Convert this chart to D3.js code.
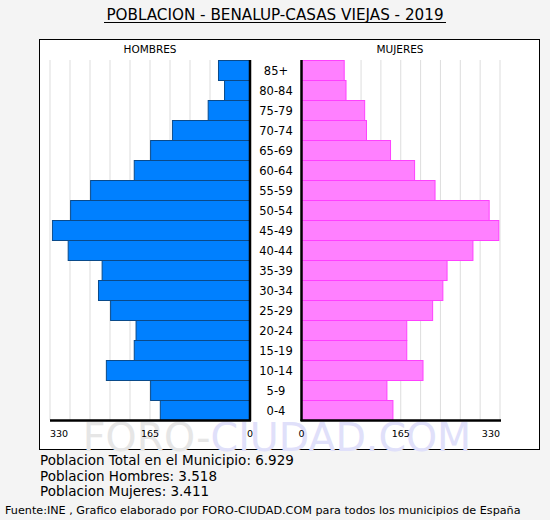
<!DOCTYPE html>
<html><head><meta charset="utf-8">
<script src="https://cdn.jsdelivr.net/npm/d3@7"></script>
<style>html,body{margin:0;padding:0;background:#f4f4f4;}svg{display:block;}</style>
</head><body>
<script>
const ageGroups = ["85+","80-84","75-79","70-74","65-69","60-64","55-59","50-54","45-49","40-44","35-39","30-34","25-29","20-24","15-19","10-14","5-9","0-4"];
const hombres = [52,42,69,128,164,191,263,296,326,300,244,250,230,188,191,237,164,148];
const mujeres = [71,74,105,108,148,188,222,312,328,285,242,235,218,175,175,202,142,152];
const tickValues = [330,165,0];
const summaryLines = ["Poblacion Total en el Municipio: 6.929","Poblacion Hombres: 3.518","Poblacion Mujeres: 3.411"];
const titleText = "POBLACION - BENALUP-CASAS VIEJAS - 2019";
const footerText = "Fuente:INE , Grafico elaborado por FORO-CIUDAD.COM para todos los municipios de España";

const W=550,H=520,font="DejaVu Sans, Verdana, sans-serif";
const svg=d3.select("body").append("svg").attr("width",W).attr("height",H);
svg.append("rect").attr("width",W).attr("height",H).attr("fill","#f4f4f4");

// title
svg.append("text").attr("x",275).attr("y",20).attr("text-anchor","middle")
  .attr("font-family",font).attr("font-size",15.2).attr("fill","#000").text(titleText);
svg.append("line").attr("x1",104).attr("x2",446).attr("y1",22.5).attr("y2",22.5).attr("stroke","#000").attr("stroke-width",1);

// panel
svg.append("rect").attr("x",39.5).attr("y",39.5).attr("width",500).attr("height",410).attr("fill","#fff").attr("stroke","#000");

// watermark
const wm=svg.append("text").attr("x",277).attr("y",451).attr("text-anchor","middle")
  .attr("font-family",font).attr("font-size",39.5);
wm.append("tspan").attr("fill","#e6e6e6").text("FORO-");
wm.append("tspan").attr("fill","#e0e0fa").text("CIUDAD.COM");

const y=d3.scaleBand().domain(ageGroups).range([60,420]).padding(0);
const xL=d3.scaleLinear().domain([0,330]).range([250,50]);
const xR=d3.scaleLinear().domain([0,330]).range([301.5,500]);
const gridVals=d3.range(0,331,33);

svg.append("g").selectAll("line").data(gridVals).join("line")
  .attr("x1",d=>xL(d)).attr("x2",d=>xL(d)).attr("y1",60).attr("y2",420).attr("stroke","#dddddd");
svg.append("g").selectAll("line").data(gridVals).join("line")
  .attr("x1",d=>xR(d)).attr("x2",d=>xR(d)).attr("y1",60).attr("y2",420).attr("stroke","#dddddd");

svg.append("g").selectAll("rect").data(ageGroups).join("rect")
  .attr("x",(d,i)=>xL(hombres[i])).attr("y",d=>y(d)+0.5)
  .attr("width",(d,i)=>xL(0)-xL(hombres[i])).attr("height",y.bandwidth())
  .attr("fill","#0080ff").attr("stroke","#0a4a8a").attr("stroke-width",1);
svg.append("g").selectAll("rect").data(ageGroups).join("rect")
  .attr("x",xR(0)).attr("y",d=>y(d)+0.5)
  .attr("width",(d,i)=>xR(mujeres[i])-xR(0)).attr("height",y.bandwidth())
  .attr("fill","#ff80ff").attr("stroke","#ff40ff").attr("stroke-width",1);

// age labels
svg.append("g").selectAll("text").data(ageGroups).join("text")
  .attr("x",276).attr("y",d=>y(d)+y.bandwidth()/2+4.5).attr("text-anchor","middle")
  .attr("font-family",font).attr("font-size",11.5).attr("fill","#000").text(d=>d);

// axes lines
svg.append("line").attr("x1",50).attr("x2",251).attr("y1",420.5).attr("y2",420.5).attr("stroke","#000").attr("stroke-width",2.5);
svg.append("line").attr("x1",300.5).attr("x2",501).attr("y1",420.5).attr("y2",420.5).attr("stroke","#000").attr("stroke-width",2.5);
svg.append("line").attr("x1",250).attr("x2",250).attr("y1",60).attr("y2",421).attr("stroke","#000").attr("stroke-width",2.5);
svg.append("line").attr("x1",301.5).attr("x2",301.5).attr("y1",60).attr("y2",421).attr("stroke","#000").attr("stroke-width",2.5);

// tick labels
const anch=(d,side)=> d===330 ? (side==="L"?"start":"end") : "middle";
svg.append("g").selectAll("text").data(tickValues).join("text")
  .attr("x",d=>xL(d)).attr("y",437).attr("text-anchor",d=>anch(d,"L"))
  .attr("font-family",font).attr("font-size",9.5).attr("fill","#000").text(d=>d);
svg.append("g").selectAll("text").data(tickValues).join("text")
  .attr("x",d=>xR(d)).attr("y",437).attr("text-anchor",d=>anch(d,"R"))
  .attr("font-family",font).attr("font-size",9.5).attr("fill","#000").text(d=>d);

// panel headers
svg.append("text").attr("x",150).attr("y",53).attr("text-anchor","middle").attr("font-family",font).attr("font-size",10.5).text("HOMBRES");
svg.append("text").attr("x",400).attr("y",53).attr("text-anchor","middle").attr("font-family",font).attr("font-size",10.5).text("MUJERES");

// summary
svg.append("g").selectAll("text").data(summaryLines).join("text")
  .attr("x",40).attr("y",(d,i)=>465+i*15.5).attr("font-family",font).attr("font-size",13.5).attr("fill","#000").text(d=>d);

svg.append("text").attr("x",5).attr("y",514).attr("font-family",font).attr("font-size",11.2).attr("fill","#000").text(footerText);
</script>
</body></html>
